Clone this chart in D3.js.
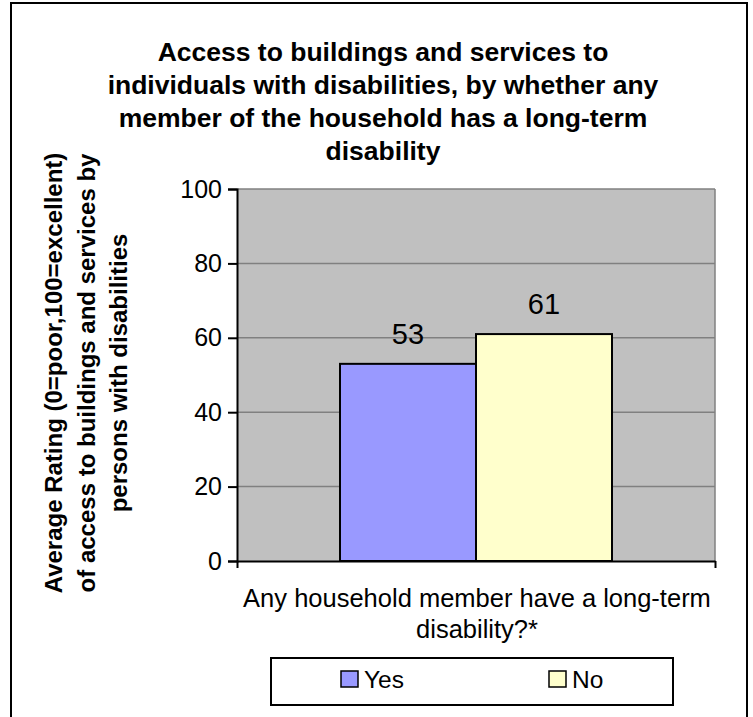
<!DOCTYPE html>
<html>
<head>
<meta charset="utf-8">
<script src="https://cdn.jsdelivr.net/npm/d3@7"></script>
<style>
  html, body { margin: 0; padding: 0; background: #fff; }
  svg { display: block; font-family: Arial, "Liberation Sans", sans-serif; }
</style>
</head>
<body>
<svg id="chart" width="753" height="717"></svg>
<script>
const titleLines = [
  "Access to buildings and services to",
  "individuals with disabilities, by whether any",
  "member of the household has a long-term",
  "disability"
];
const yTitleLines = [
  "Average Rating (0=poor,100=excellent)",
  "of access to buildings and services by",
  "persons with disabilities"
];
const xTitleLines = ["Any household member have a long-term", "disability?*"];
const categories = ["Any household member have a long-term disability?*"];
const series = ["Yes", "No"];
const values = [53, 61];
const colors = ["#9999FF", "#FFFFCC"];
const yTicks = [0, 20, 40, 60, 80, 100];

const svg = d3.select("#chart");

// outer chart border
svg.append("rect").attr("x", 11).attr("y", 3).attr("width", 736).attr("height", 730)
  .attr("fill", "#fff").attr("stroke", "#000").attr("stroke-width", 2);

const plot = { left: 237, right: 715, top: 189, bottom: 561 };

const y = d3.scaleLinear().domain([0, 100]).range([plot.bottom, plot.top]);
const groupW = 272;
const pOuter = ((plot.right - plot.left) - groupW) / 2 / groupW;
const x0 = d3.scaleBand().domain(categories).range([plot.left, plot.right])
  .paddingInner(0).paddingOuter(pOuter);
const x1 = d3.scaleBand().domain(series).range([0, x0.bandwidth()]).padding(0);

// plot background
svg.append("rect").attr("x", plot.left).attr("y", plot.top)
  .attr("width", plot.right - plot.left).attr("height", plot.bottom - plot.top)
  .attr("fill", "#C0C0C0");

// gridlines
svg.append("g").selectAll("line").data(yTicks.filter(d => d > 0)).join("line")
  .attr("x1", plot.left).attr("x2", plot.right)
  .attr("y1", d => y(d)).attr("y2", d => y(d))
  .attr("stroke", "#808080").attr("stroke-width", 1.5);

// right border of plot
svg.append("line").attr("x1", plot.right).attr("x2", plot.right)
  .attr("y1", plot.top).attr("y2", plot.bottom)
  .attr("stroke", "#808080").attr("stroke-width", 1.5);

// bars
const cat = categories[0];
svg.append("g").selectAll("rect").data(series).join("rect")
  .attr("x", (s) => x0(cat) + x1(s))
  .attr("y", (s, i) => y(values[i]))
  .attr("width", x1.bandwidth())
  .attr("height", (s, i) => y(0) - y(values[i]))
  .attr("fill", (s, i) => colors[i])
  .attr("stroke", "#000").attr("stroke-width", 2);

// data labels
svg.append("g").selectAll("text").data(series).join("text")
  .attr("x", (s) => x0(cat) + x1(s) + x1.bandwidth() / 2)
  .attr("y", (s, i) => y(values[i]) - 20)
  .attr("text-anchor", "middle")
  .attr("font-size", 29).attr("fill", "#000")
  .text((s, i) => values[i]);

// y axis
const yAxis = d3.axisLeft(y).tickValues(yTicks).tickSize(9).tickPadding(6);
const gy = svg.append("g").attr("transform", `translate(${plot.left},0)`).call(yAxis);
gy.select(".domain").attr("stroke", "#000").attr("stroke-width", 2);
gy.selectAll(".tick line").attr("stroke", "#000").attr("stroke-width", 2);
gy.selectAll(".tick text").attr("font-size", 25).attr("fill", "#000")
  .attr("font-family", "Arial, 'Liberation Sans', sans-serif");

// x axis
const xAxisScale = d3.scaleLinear().domain([0, 1]).range([plot.left, plot.right]);
const xAxis = d3.axisBottom(xAxisScale).tickValues([0, 1]).tickSize(7).tickSizeOuter(0).tickFormat("");
const gx = svg.append("g").attr("transform", `translate(0,${plot.bottom})`).call(xAxis);
gx.select(".domain").attr("stroke", "#000").attr("stroke-width", 2);
gx.selectAll(".tick line").attr("stroke", "#000").attr("stroke-width", 2);

// title
svg.append("g").selectAll("text").data(titleLines).join("text")
  .attr("x", 383).attr("y", (d, i) => 61 + i * 33)
  .attr("text-anchor", "middle").attr("font-weight", "bold").attr("font-size", 26.5)
  .attr("fill", "#000").text(d => d);

// y title
svg.append("g").selectAll("text").data(yTitleLines).join("text")
  .attr("transform", (d, i) => `translate(${62 + i * 32.5},373) rotate(-90)`)
  .attr("text-anchor", "middle").attr("font-weight", "bold").attr("font-size", 24)
  .attr("fill", "#000").text(d => d);

// x title
svg.append("g").selectAll("text").data(xTitleLines).join("text")
  .attr("x", 477).attr("y", (d, i) => 607 + i * 31)
  .attr("text-anchor", "middle").attr("font-size", 25.5)
  .attr("fill", "#000").text(d => d);

// legend
const lg = svg.append("g");
lg.append("rect").attr("x", 271).attr("y", 658).attr("width", 402).attr("height", 47)
  .attr("fill", "#fff").attr("stroke", "#000").attr("stroke-width", 2);
const legendX = d3.scalePoint().domain(series).range([341, 549]);
const items = lg.selectAll("g.item").data(series).join("g").attr("class", "item")
  .attr("transform", s => `translate(${legendX(s)},671)`);
items.append("rect").attr("x", 0).attr("y", 0).attr("width", 17).attr("height", 16)
  .attr("fill", (s, i) => colors[i]).attr("stroke", "#000").attr("stroke-width", 1.5);
items.append("text").attr("x", 23).attr("y", 17).attr("font-size", 24.5)
  .attr("fill", "#000").text(s => s);
</script>
</body>
</html>
